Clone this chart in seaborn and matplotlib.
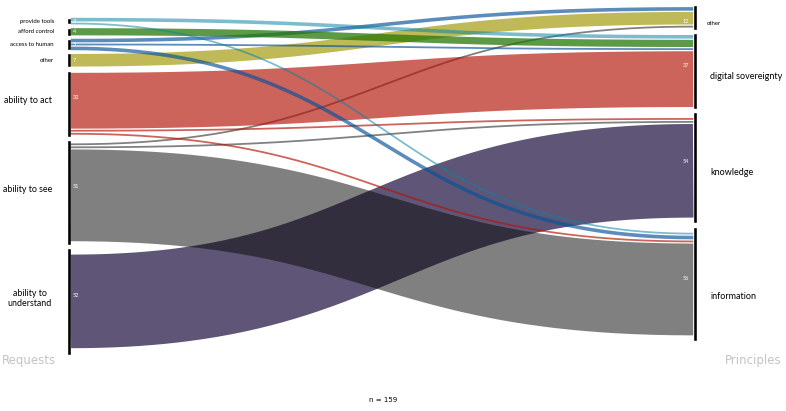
"""
Sankey-style chart: user requests vs. design principles.
"""

import numpy as np
import pandas as pd
import matplotlib.pyplot as plt
import matplotlib.colors as mcolors
import seaborn as sns

sns.set_theme(style="white")
plt.rcParams["font.family"] = ["Lato", "DejaVu Sans"]

# ── data ─────────────────────────────────────────────────────────────────────
requests = ["provide tools", "afford control", "access to human", "other",
            "ability to act", "ability to see", "ability to\nunderstand"]
request_totals = [3, 4, 5, 7, 32, 51, 52]
principles = ["other", "digital sovereignty", "knowledge", "information"]
principle_totals = [12, 37, 54, 56]

flow_src = [0, 0, 1, 2, 2, 2, 3, 4, 4, 4, 5, 5, 5, 6]
flow_dst = [1, 3, 1, 0, 1, 3, 0, 1, 2, 3, 0, 2, 3, 2]
flow_val = [2, 1, 4, 2, 1, 2, 7, 31, 1, 1, 1, 1, 51, 52]

request_colors = ["#7dbdcd", "#5d9a47", "#5b8cbd", "#bfba57",
                  "#cc645c", "#808080", "#5f5677"]

# ── layout constants (pixels) ────────────────────────────────────────────────
W, H = 786, 411
NODE_SCALE = 2.05     # px per unit for node bars
FLOW_SCALE = 1.8      # px per unit for links
NODE_GAP = 3.5
FLOW_GAP = 1.2
X_LEFT, X_RIGHT = 69, 695
BAR_W = 3.6
LEFT_TOP, RIGHT_TOP = 18, 5
RIGHT_LABEL_SHIFT = [6, 5, 5, 12]


def stack_nodes(totals, start):
    tops, y = [], start
    for v in totals:
        tops.append(y)
        y += v * NODE_SCALE + NODE_GAP
    return np.array(tops), np.array(totals) * NODE_SCALE


def multiply_rgba(hex_color):
    # darkest base colour + alpha that lands on hex_color over white,
    # so overlaps darken roughly like a multiply blend
    t = np.array(mcolors.to_rgb(hex_color))
    a = min(1.0, 1 - t.min() + 0.02)
    c = np.clip(1 - (1 - t) / a, 0, 1)
    return (*c, a)


l_top, l_h = stack_nodes(request_totals, LEFT_TOP)
r_top, r_h = stack_nodes(principle_totals, RIGHT_TOP)

flows = pd.DataFrame({"src": flow_src, "dst": flow_dst, "val": flow_val})
flows["w"] = flows["val"] * FLOW_SCALE


def place(node_col, order_col, tops, heights):
    y0 = pd.Series(0.0, index=flows.index)
    for node, grp in flows.groupby(node_col):
        grp = grp.sort_values(order_col)
        total = grp["w"].sum() + FLOW_GAP * (len(grp) - 1)
        y = tops[node] + (heights[node] - total) / 2
        for i, row in grp.iterrows():
            y0[i] = y + row["w"] / 2
            y += row["w"] + FLOW_GAP
    return y0


flows["y_src"] = place("src", "dst", l_top, l_h)
flows["y_dst"] = place("dst", "src", r_top, r_h)

# ── figure ───────────────────────────────────────────────────────────────────
fig = plt.figure(figsize=(W / 100, H / 100), dpi=100)
ax = fig.add_axes([0, 0, 1, 1])
ax.set_xlim(0, W)
ax.set_ylim(H, 0)
ax.axis("off")

xa, xb = X_LEFT + BAR_W / 2, X_RIGHT - BAR_W / 2
t = np.linspace(0, 1, 200)
bx = 3 * t * (1 - t) ** 2 * 0.5 + 3 * t ** 2 * (1 - t) * 0.5 + t ** 3
by = 3 * t ** 2 * (1 - t) + t ** 3

# draw bottom sources first so upper thin links sit on top
for i in flows.sort_values("src", ascending=False).index:
    f = flows.loc[i]
    curve = pd.DataFrame({"x": xa + (xb - xa) * bx,
                          "y": f["y_src"] + (f["y_dst"] - f["y_src"]) * by})
    sns.lineplot(data=curve, x="x", y="y", ax=ax, sort=False, estimator=None,
                 color=multiply_rgba(request_colors[int(f["src"])]),
                 linewidth=f["w"] * 0.72, solid_capstyle="butt")

# node bars
ax.bar([X_LEFT] * len(l_top), l_h, bottom=l_top, width=BAR_W, color="black")
ax.bar([X_RIGHT] * len(r_top), r_h, bottom=r_top, width=BAR_W, color="black")

# left node labels
for i, name in enumerate(requests):
    big = request_totals[i] > 20
    yc = l_top[i] + l_h[i] / 2
    ax.text(52 if big else 54, yc - (3 if big else 0), name,
            ha="right", va="center", multialignment="center",
            fontsize=6.4 if big else 4.3, color="black")
    ax.text(73, yc - (6 if big else 0), str(request_totals[i]),
            ha="left", va="center", fontsize=4, color="white")

# right node labels
for i, name in enumerate(principles):
    big = principle_totals[i] > 20
    yc = r_top[i] + r_h[i] / 2
    ax.text(710 if big else 707, yc + RIGHT_LABEL_SHIFT[i], name,
            ha="left", va="center", fontsize=6.5 if big else 4.3, color="black")
    ax.text(689, yc - (6 if big else -4), str(principle_totals[i]),
            ha="right", va="center", fontsize=4, color="white")

ax.text(2, 360, "Requests", ha="left", va="center", fontsize=8.5,
        color="#c4c4c4", family=["Liberation Sans Narrow", "DejaVu Sans"])
ax.text(782, 360, "Principles", ha="right", va="center", fontsize=8.5,
        color="#c4c4c4", family=["Liberation Sans Narrow", "DejaVu Sans"])
ax.text(383, 400, "n = 159", ha="center", va="center", fontsize=5,
        color="black", family=["Liberation Sans Narrow", "DejaVu Sans"])

plt.savefig("out.png", dpi=100)
plt.close()
